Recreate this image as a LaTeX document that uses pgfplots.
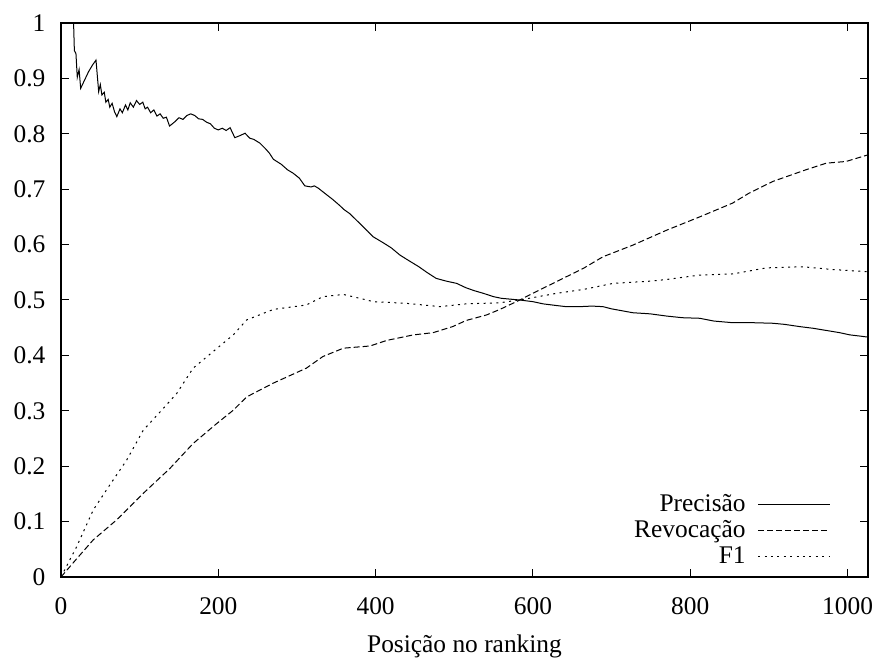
\documentclass[border=0pt]{standalone}
\usepackage{fontspec}
\setmainfont{Liberation Serif}
\usepackage{pgfplots}
\usetikzlibrary{calc}
\pgfplotsset{compat=1.18}
\begin{document}
\begin{tikzpicture}[font=\fontsize{12.7}{15}\selectfont]
\begin{axis}[
  scale only axis,
  width=403.5pt, height=277pt,
  xmin=0, xmax=1026, ymin=0, ymax=1,
  xtick={0,200,400,600,800,1000},
  ytick={0,0.1,0.2,0.3,0.4,0.5,0.6,0.7,0.8,0.9,1},
  tick align=inside,
  major tick length=4pt,
  tick style={black, line width=0.5pt},
  axis line style={line width=0.6pt},
  /pgf/number format/assume math mode=true,
  xticklabel style={/pgf/number format/set thousands separator={}, yshift=-7pt},
  yticklabel style={/pgf/number format/fixed, /pgf/number format/precision=1, xshift=-4.3pt},
  xlabel={Posição no ranking},
  xlabel style={yshift=-3pt},
  legend plot pos=right,
  legend cell align=right,
  legend style={at={(1,0)}, anchor=south east, xshift=-15.5pt, yshift=1pt, draw=none, fill=none, row sep=-1pt, column sep=4pt, font=\fontsize{12.7}{15}\selectfont},
  legend image code/.code={\draw[#1] (0pt,0pt) -- (36pt,0pt);},
]
\addplot[black, line width=0.5pt] coordinates {
(1,1)(16,1)(17,0.95)(19,0.945)(20.7,0.902)(23,0.916)(25,0.882)(30,0.897)(35,0.912)(40,0.924)(44.5,0.933)(47.9,0.876)(50,0.889)(52,0.87)(55,0.875)(57,0.857)(60,0.862)(62,0.848)(65,0.855)(68,0.84)(71,0.831)(75,0.845)(78,0.838)(82,0.852)(85,0.843)(88,0.856)(92,0.848)(96,0.86)(100,0.853)(104,0.857)(107,0.845)(110,0.848)(114,0.838)(118,0.843)(122,0.832)(126,0.836)(130,0.828)(134,0.83)(138,0.814)(145,0.822)(150,0.829)(155,0.826)(160,0.833)(165,0.836)(170,0.833)(175,0.827)(180,0.826)(185,0.821)(190,0.818)(195,0.81)(200,0.807)(205,0.81)(210,0.806)(215,0.811)(221,0.793)(228,0.797)(234,0.801)(240,0.792)(245,0.79)(253,0.783)(260,0.773)(265,0.765)(270,0.754)(280,0.745)(288,0.735)(295,0.729)(303,0.72)(310,0.706)(318,0.704)(322,0.706)(327,0.702)(335,0.693)(345,0.682)(354,0.671)(360,0.663)(367,0.656)(380,0.638)(390,0.624)(397,0.614)(410,0.603)(420,0.594)(431,0.581)(440,0.573)(455,0.56)(465,0.55)(477,0.539)(490,0.534)(503,0.530)(515,0.522)(525,0.517)(537,0.512)(550,0.506)(560,0.503)(583,0.5)(600,0.497)(613,0.493)(630,0.49)(642,0.488)(660,0.488)(675,0.489)(689,0.488)(700,0.484)(727,0.477)(749,0.475)(770,0.471)(790,0.468)(812,0.467)(830,0.462)(854,0.459)(880,0.459)(905,0.458)(920,0.456)(939,0.452)(956,0.449)(973,0.445)(990,0.441)(1003,0.437)(1015,0.435)(1026,0.433)
};
\addlegendentry{Precisão}
\addplot[black, line width=0.5pt, dash pattern=on 3pt off 1.5pt] coordinates {
(0,0)(20,0.033)(41,0.067)(70.7,0.103)(104.6,0.151)(138.5,0.196)(168,0.241)(198,0.277)(219,0.301)(236,0.325)(270,0.350)(312,0.377)(333,0.398)(359,0.413)(393,0.417)(414,0.427)(448,0.437)(473,0.441)(498,0.452)(515,0.463)(541,0.473)(558,0.483)(579,0.497)(604,0.515)(634,0.536)(664,0.557)(689,0.578)(727,0.599)(770,0.626)(812,0.650)(854,0.675)(875,0.693)(905,0.714)(947,0.735)(973,0.747)(998,0.750)(1026,0.762)
};
\addlegendentry{Revocação}
\addplot[black, line width=0.5pt, dash pattern=on 1pt off 2.2pt] coordinates {
(0,0)(20,0.055)(41,0.121)(62,0.166)(83.5,0.211)(104.6,0.265)(126,0.298)(147,0.331)(168,0.377)(193.5,0.407)(219,0.437)(236,0.464)(270,0.483)(312,0.491)(333,0.506)(359,0.510)(380,0.503)(397,0.497)(439,0.494)(482,0.488)(515,0.493)(558,0.495)(587,0.501)(630,0.512)(664,0.519)(702,0.530)(749,0.534)(770,0.537)(812,0.545)(854,0.547)(897,0.558)(943,0.560)(981,0.555)(1026,0.551)
};
\addlegendentry{F1}
\end{axis}
\pgfresetboundingbox
\path[use as bounding box] ($(current axis.south west)+(-30.5pt,-40.5pt)$) rectangle ($(current axis.north east)+(6pt,11.5pt)$);
\end{tikzpicture}
\end{document}
